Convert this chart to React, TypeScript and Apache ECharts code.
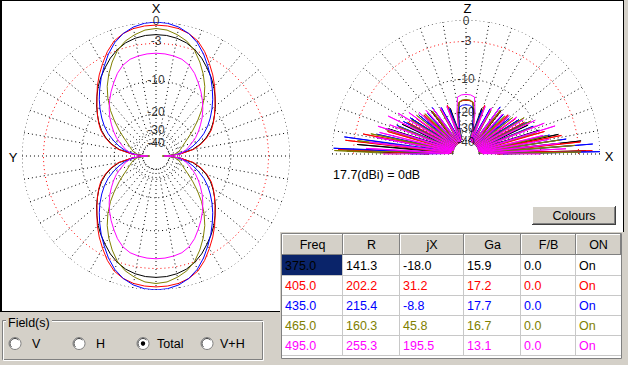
import React, { useEffect, useRef } from "react";
import * as echarts from "echarts";

// ---------- table data ----------
const TABLE_HEADERS = ["Freq", "R", "jX", "Ga", "F/B", "ON"];
const FREQS = ["375.0", "405.0", "435.0", "465.0", "495.0"];
const R_VALS = ["141.3", "202.2", "215.4", "160.3", "255.3"];
const JX_VALS = ["-18.0", "31.2", "-8.8", "45.8", "195.5"];
const GA_VALS = ["15.9", "17.2", "17.7", "16.7", "13.1"];
const FB_VALS = ["0.0", "0.0", "0.0", "0.0", "0.0"];
const ON_VALS = ["On", "On", "On", "On", "On"];
const COLORS = ["#000000", "#ff0000", "#0000ff", "#808000", "#ff00ff"];

// ---------- scale rings ----------
const RING_DB = [0, -3, -10, -20, -30, -40];
const RING_LABELS = ["0", "-3", "-10", "-20", "-30", "-40"];
const FIELD_OPTIONS = ["V", "H", "Total", "V+H"];

// ---------- horizontal pattern (quarter, dB vs azimuth from X) ----------
const H_ANGLES = [0, 5, 10, 15, 20, 25, 30, 35, 40, 45, 50, 55, 60, 65, 70, 75, 80, 85, 88, 90];
const H_375 = [-1.7, -1.75, -1.95, -2.3, -2.9, -3.7, -4.7, -5.7, -6.8, -8.1, -9.4, -10.8, -12.2, -13.8, -15.8, -18.4, -22, -29.5, -38, -48];
const H_405 = [-0.4, -0.45, -0.6, -0.95, -1.55, -2.6, -3.9, -5.2, -6.6, -8.1, -9.5, -10.8, -12.1, -13.5, -15.5, -18, -21.5, -29, -38, -48];
const H_435 = [0, -0.1, -0.4, -0.95, -1.8, -3.0, -4.4, -5.8, -7.3, -8.8, -10.4, -12.1, -13.9, -16.0, -18.6, -21.5, -25, -31, -40, -50];
const H_465 = [-0.85, -1.0, -1.45, -2.05, -3.0, -4.4, -6.0, -7.8, -10.0, -12.6, -15.6, -18.7, -21.8, -24.6, -26.8, -28.6, -30.5, -34, -42, -53];
const H_495 = [-4.55, -4.6, -4.75, -5.0, -5.6, -6.6, -7.9, -9.2, -10.6, -12.1, -13.7, -15.5, -17.3, -19.2, -21.5, -23.8, -26.1, -29, -37, -48];

// ---------- vertical pattern ([angle from right horizon, dB]) ----------
const V_375 = [[0,-25],[1.5,-1.9],[4,-38],[6.5,-2.5],[9,-40],[12,-6],[15,-40],[18,-9.5],[21.5,-40],[25,-11.5],[29,-40],[33,-13],[37,-40],[41.5,-14.5],[46,-40],[51,-15],[56,-40],[61.5,-16.5],[67,-40],[71,-17.5],[74,-38],[76,-27],[79,-21],[82.5,-16.2],[86,-15.7],[90,-15.6],[94,-15.7],[97.5,-16.2],[101,-21],[104,-27],[106,-38],[109,-17.5],[113,-40],[118.5,-16.5],[124,-40],[129,-15],[134,-40],[138.5,-14],[143,-40],[147,-12.5],[151,-40],[155,-11],[158.5,-40],[162,-8.5],[165,-40],[169.4,-6.6],[172,-40],[175,-3.5],[177,-38],[178.5,-2],[180,-22]];
const V_405 = [[0,-25],[1.5,-1],[3.5,-38],[6,-2.6],[8.5,-40],[11,-5.5],[13.5,-40],[16,-8.5],[19,-40],[22,-10.5],[25,-40],[28.5,-12],[32,-40],[35.5,-13.5],[39,-40],[43,-14.5],[47,-40],[51.5,-15.5],[56,-40],[61,-16.5],[65,-40],[69,-16.2],[73,-38],[75,-26],[78,-21],[82,-16.3],[85.5,-15.8],[90,-15.6],[94.5,-15.8],[98,-16.3],[102,-21],[105,-26],[107,-38],[111,-16.2],[115,-40],[119,-16.5],[124,-40],[128.5,-15.5],[133,-40],[137,-14.5],[141,-40],[144.5,-13.5],[148,-40],[151.5,-12],[155,-40],[158,-10.5],[161,-40],[164,-8.5],[166.5,-40],[169,-4.2],[171.5,-40],[173.5,-1.7],[176,-38],[178,-0.8],[180,-22]];
const V_435 = [[0,-22],[1,0],[2.5,-38],[4.5,-0.9],[6.5,-40],[8.5,-4.8],[10.5,-40],[12.8,-7.7],[15,-40],[17.5,-9.5],[20,-40],[22.5,-10.5],[25,-40],[27.5,-11.5],[30,-40],[33,-13],[36,-40],[39.5,-15],[43,-40],[46.5,-15.5],[50,-40],[54,-14.3],[58,-40],[62,-16.5],[66,-40],[70,-18],[74,-38],[76,-28],[79,-22],[82,-17.8],[86,-17.3],[90,-17.2],[94,-17.3],[98,-17.8],[101,-22],[104,-28],[106,-38],[110,-17.5],[114,-40],[118,-16],[122,-40],[126,-14.5],[130,-40],[133.5,-15],[137,-40],[140.5,-13.5],[144,-40],[147,-12],[150,-40],[152.5,-11],[155,-40],[157.5,-10],[160,-40],[162.5,-8],[165,-40],[167.5,-6.5],[169.5,-40],[172,-1.5],[174.5,-38],[177.5,-0.2],[179,-30],[180,-15]];
const V_465 = [[0,-20],[1,-2.6],[2.5,-38],[4.5,-3.5],[6.5,-40],[8.5,-6],[10.5,-40],[12.5,-8],[14.5,-40],[17,-10.5],[19.5,-40],[22,-11],[24.5,-40],[27,-10.5],[29.5,-40],[32,-11.5],[35,-40],[38,-14],[41,-40],[44.5,-15.5],[48,-40],[52,-15],[56,-40],[60,-17],[64,-40],[68.5,-17],[73,-38],[75,-27],[78,-21],[82,-16.2],[85.5,-15.6],[90,-15.4],[94.5,-15.6],[98,-16.2],[102,-21],[105,-27],[107,-38],[111.5,-17],[116,-40],[120,-16.5],[124,-40],[128,-15.5],[132,-40],[135.5,-14.5],[139,-40],[142,-13],[145,-40],[148,-12.5],[150.5,-40],[153,-13],[155.5,-40],[158,-10.5],[160.5,-40],[163,-8],[165.5,-40],[168,-5.5],[170.5,-40],[173,-3.5],[175.5,-38],[178.5,-0.3],[180,-12]];
const V_495 = [[0,-10],[1.2,-36],[3,-5],[4.8,-38],[6.5,-6],[8.2,-38],[10,-8],[11.8,-40],[13.5,-9],[15.3,-40],[17.5,-6.2],[19.5,-40],[21.5,-8],[23.5,-40],[26,-9.5],[28.5,-40],[31,-12],[33.5,-40],[36,-13],[38.5,-40],[41.5,-14.5],[44.5,-40],[47.5,-15.5],[50.5,-40],[54,-15],[57.5,-40],[61,-16],[64.5,-40],[68,-16.5],[71,-38],[73,-30],[77.5,-20],[81.5,-14.5],[85.5,-14],[90,-13.9],[94.5,-14],[98.5,-14.5],[102.5,-20],[107,-30],[109,-38],[112,-16.5],[115.5,-40],[119,-16],[122.5,-40],[126,-15],[129.5,-40],[132.5,-14],[135.5,-40],[138.5,-13],[141.5,-40],[144,-11],[146.5,-40],[149,-9],[151.5,-40],[154,-7.5],[156.5,-40],[159,-8.5],[161,-40],[162.5,-6.4],[164.3,-40],[166,-7],[167.8,-38],[169.5,-6.5],[171.2,-38],[173,-5.5],[174.8,-38],[176.8,-5],[178.8,-36],[180,-8.2]];

const H_SERIES = [H_375, H_405, H_435, H_465, H_495];
const V_SERIES = [V_375, V_405, V_435, V_465, V_495];

// vertical nudge of each ring label (px) in the left / right plot
const LABEL_NUDGE_LEFT = [-1, -2, -1, -2, -3, 0];
const LABEL_NUDGE_RIGHT = [1, 0, 0, 0, -3, 1];

const FONT = '"Liberation Sans", Arial, sans-serif';

// ARRL log scale: 2 dB per 0.89 factor
function toR(db: number) {
  return Math.pow(0.89, -db / 2);
}

function hLoop(q: number[]) {
  const pts: number[][] = [];
  const n = H_ANGLES.length;
  for (let i = 0; i < n; i++) pts.push([toR(q[i]), H_ANGLES[i]]);
  for (let i = n - 2; i >= 0; i--) pts.push([toR(q[i]), 180 - H_ANGLES[i]]);
  for (let i = 1; i < n; i++) pts.push([toR(q[i]), 180 + H_ANGLES[i]]);
  for (let i = n - 2; i >= 0; i--) pts.push([toR(q[i]), 360 - H_ANGLES[i]]);
  return pts;
}

function buildOption() {
  const series: any[] = [];
  const dotted = (color: string) => ({ color, width: 1, type: [1, 3] });

  // grid rings and spokes for both plots
  [0, 1].forEach((p) => {
    const maxA = p === 0 ? 360 : 180;
    RING_DB.forEach((db) => {
      const data: number[][] = [];
      for (let a = 0; a <= maxA; a += 2) data.push([toR(db), a]);
      series.push({
        type: "line", coordinateSystem: "polar", polarIndex: p, data, symbol: "none", silent: true, z: 1,
        lineStyle: dotted(db === -3 ? "#ff0000" : "#000000"),
      });
    });
    for (let a = 0; a <= maxA - (p === 0 ? 10 : 0); a += 10) {
      series.push({
        type: "line", coordinateSystem: "polar", polarIndex: p, symbol: "none", silent: true, z: 1,
        data: [[toR(-40), a], [1, a]], lineStyle: dotted("#000000"),
      });
    }
  });

  // patterns
  H_SERIES.forEach((q, i) => {
    series.push({
      type: "line", coordinateSystem: "polar", polarIndex: 0, symbol: "none", silent: true, z: 3,
      name: FREQS[i], data: hLoop(q), lineStyle: { color: COLORS[i], width: 1 },
    });
  });
  V_SERIES.forEach((v, i) => {
    series.push({
      type: "line", coordinateSystem: "polar", polarIndex: 1, symbol: "none", silent: true, z: 3,
      name: FREQS[i], data: v.map(([a, db]) => [toR(db), a]), lineStyle: { color: COLORS[i], width: 1 },
    });
  });

  // ring labels
  [0, 1].forEach((p) => {
    const nudge = p === 0 ? LABEL_NUDGE_LEFT : LABEL_NUDGE_RIGHT;
    series.push({
      type: "scatter", coordinateSystem: "polar", polarIndex: p, symbolSize: 1, silent: true, z: 6,
      itemStyle: { color: "rgba(0,0,0,0)" },
      data: RING_DB.map((db, i) => ({
        value: [toR(db), p === 0 ? 0 : 90],
        name: RING_LABELS[i],
        label: { offset: [0, nudge[i]] },
      })),
      label: { show: true, position: "inside", formatter: "{b}", color: "#000", fontSize: 12, fontFamily: FONT, lineHeight: 11 },
    });
  });

  // graphics
  const g: any[] = [];
  const rect = (x: number, y: number, w: number, h: number, fill: string, stroke?: string, z = 0) =>
    g.push({ type: "rect", z, silent: true, shape: { x, y, width: w, height: h }, style: stroke ? { fill, stroke, lineWidth: 1 } : { fill } });
  const line = (x1: number, y1: number, x2: number, y2: number, stroke: string, lw = 1, z = 1) =>
    g.push({ type: "line", z, silent: true, shape: { x1, y1, x2, y2 }, style: { stroke, lineWidth: lw } });
  const text = (x: number, y: number, t: string, fill = "#000", align = "left", size = 12, z = 10, lh?: number) =>
    g.push({
      type: "text", x, y, z, silent: true,
      style: {
        text: t, fill, font: `${size}px ${FONT}`, align, textAlign: align, verticalAlign: "middle", textVerticalAlign: "middle",
        ...(lh ? { lineHeight: lh } : {}),
      },
    });
  const circle = (cx: number, cy: number, r: number, fill: string, stroke?: string, z = 2) =>
    g.push({ type: "circle", z, silent: true, shape: { cx, cy, r }, style: stroke ? { fill, stroke, lineWidth: 1 } : { fill } });

  // panels
  rect(0, 0, 623, 311, "#ffffff");
  rect(280, 232, 348, 133, "#d4d0c8");
  line(0, 0.5, 624, 0.5, "#000");
  line(1, 0, 1, 312, "#000", 2);
  line(0, 311.5, 280, 311.5, "#000");
  line(623.5, 0, 623.5, 232, "#000");

  // axis names
  text(156, 8, "X", "#000", "center", 13, 10, 12);
  text(13, 157, "Y", "#000", "center", 13, 10, 12);
  text(467.5, 8, "Z", "#000", "center", 13, 10, 12);
  text(609, 156, "X", "#000", "center", 13, 10, 12);
  text(333, 175, "17.7(dBi) = 0dB", "#000", "left", 12.5);

  // Colours button
  rect(532, 206, 84, 19, "#d4d0c8");
  line(532, 206.5, 616, 206.5, "#ffffff");
  line(532.5, 206, 532.5, 225, "#ffffff");
  line(532, 224.5, 616, 224.5, "#404040");
  line(615.5, 206, 615.5, 225, "#404040");
  line(533, 223.5, 615, 223.5, "#808080");
  line(614.5, 207, 614.5, 224, "#808080");
  text(574, 215.5, "Colours", "#000", "center", 12.5);

  // table
  const colX = [282, 343, 400, 464, 521, 576, 621];
  rect(281.5, 233.5, 340, 125, "#ffffff", "#808080");
  for (let j = 0; j < 6; j++) {
    const x = colX[j], w = colX[j + 1] - colX[j];
    rect(x, 234, w, 21, "#d4d0c8");
    line(x, 234.5, x + w, 234.5, "#ffffff");
    line(x + 0.5, 234, x + 0.5, 255, "#ffffff");
    line(x, 254.5, x + w, 254.5, "#808080");
    line(x + w - 0.5, 234, x + w - 0.5, 255, "#808080");
    text(x + w / 2, 245, TABLE_HEADERS[j], "#000", "center", 12.5);
  }
  for (let i = 1; i <= 5; i++) line(282, 255 + i * 20 + 0.5, 621, 255 + i * 20 + 0.5, "#c8c8c8");
  for (let j = 1; j < 6; j++) line(colX[j] - 0.5, 255, colX[j] - 0.5, 356, "#c8c8c8");
  rect(282, 255, 60, 20, "#0a246a", undefined, 2);
  const cols = [FREQS, R_VALS, JX_VALS, GA_VALS, FB_VALS, ON_VALS];
  for (let i = 0; i < 5; i++) {
    for (let j = 0; j < 6; j++) {
      text(colX[j] + 3, 255 + i * 20 + 10.5, cols[j][i], COLORS[i], "left", 12.5);
    }
  }

  // Field(s) group
  g.push({ type: "rect", z: 1, silent: true, shape: { x: 2.5, y: 320.5, width: 260, height: 39 }, style: { fill: "none", stroke: "#808080", lineWidth: 1 } });
  g.push({ type: "rect", z: 1, silent: true, shape: { x: 3.5, y: 321.5, width: 260, height: 39 }, style: { fill: "none", stroke: "#ffffff", lineWidth: 1 } });
  rect(6, 314, 46, 14, "#d4d0c8", undefined, 2);
  text(8, 322.5, "Field(s)", "#000", "left", 12.5);
  const radioX = [15, 79, 143, 207];
  const labelX = [32, 96, 157, 220];
  FIELD_OPTIONS.forEach((lab, i) => {
    circle(radioX[i], 343.5, 6, "#ffffff", "#808080");
    g.push({ type: "arc", z: 3, silent: true, shape: { cx: radioX[i], cy: 343.5, r: 5, startAngle: Math.PI * 0.75, endAngle: Math.PI * 1.75 }, style: { stroke: "#404040", fill: "none", lineWidth: 1 } });
    if (lab === "Total") circle(radioX[i], 343.5, 2.2, "#000000", undefined, 4);
    text(labelX[i], 343.5, lab, "#000", "left", 12.5);
  });

  const hideAxis = { axisLine: { show: false }, axisTick: { show: false }, axisLabel: { show: false }, splitLine: { show: false }, splitArea: { show: false } };

  return {
    animation: false,
    backgroundColor: "#d4d0c8",
    polar: [
      { center: [156, 156], radius: 134 },
      { center: [466, 154], radius: 134 },
    ],
    angleAxis: [
      { polarIndex: 0, type: "value", min: 0, max: 360, startAngle: 90, clockwise: true, ...hideAxis },
      { polarIndex: 1, type: "value", min: 0, max: 360, startAngle: 0, clockwise: false, ...hideAxis },
    ],
    radiusAxis: [
      { polarIndex: 0, type: "value", min: 0, max: 1, ...hideAxis },
      { polarIndex: 1, type: "value", min: 0, max: 1, ...hideAxis },
    ],
    graphic: { elements: g },
    series,
  };
}

export default function App() {
  const ref = useRef<HTMLDivElement>(null);
  useEffect(() => {
    if (!ref.current) return;
    const chart = echarts.init(ref.current, null, { renderer: "svg" });
    chart.setOption(buildOption() as any);
    return () => chart.dispose();
  }, []);
  return (
    <div
      ref={ref}
      style={{ position: "fixed", left: 0, top: 0, width: 628, height: 365, background: "#d4d0c8" }}
    />
  );
}
